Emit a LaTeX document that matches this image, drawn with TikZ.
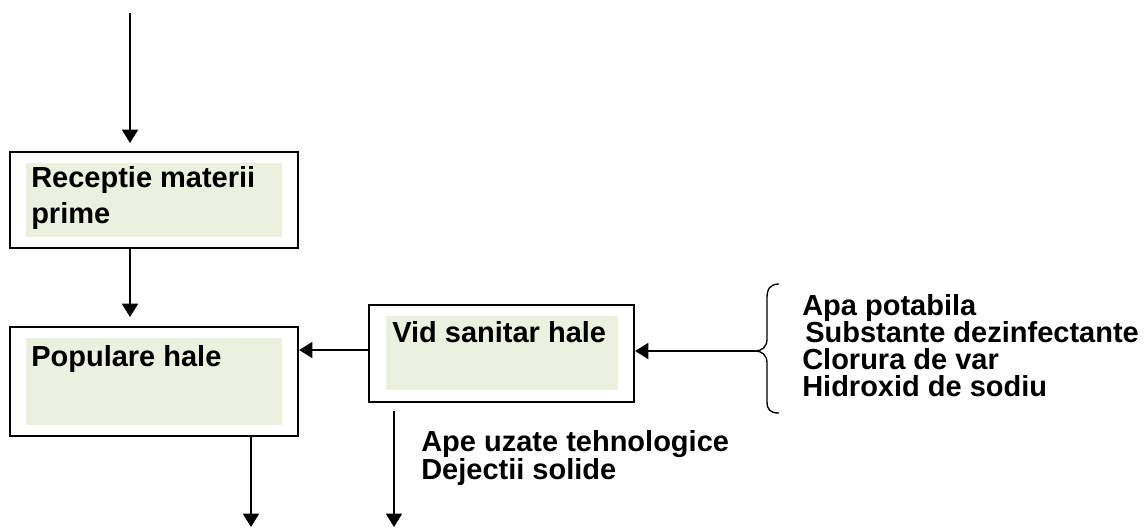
\documentclass[tikz,border=0pt]{standalone}
\usepackage{fontspec}
\setmainfont{Liberation Sans}
\usetikzlibrary{arrows.meta}
\definecolor{boxgreen}{HTML}{EBF1DE}
\begin{document}
\begin{tikzpicture}[x=0.75pt,y=-0.75pt,
  outerbox/.style={draw=black,line width=1.6pt,minimum width=#1*0.75pt,inner sep=0pt},
  greenfill/.style={fill=boxgreen,draw=none},
  lbl/.style={anchor=base west,inner sep=0pt,font=\fontsize{21.75}{26}\selectfont\bfseries},
  arr/.style={line width=1.3pt,-{Triangle[width=12pt,length=10pt]}},
  brace/.style={line width=1pt}]
\useasboundingbox (0,0) rectangle (1146,528);
% boxes
\node[outerbox=288,minimum height=72pt] (rec) at (154,200) {};
\node[outerbox=288,minimum height=81.75pt] (pop) at (154,381.5) {};
\node[outerbox=265,minimum height=72.75pt] (vid) at (501.5,353.5) {};
\fill[greenfill] (26,163) rectangle (282,237);
\fill[greenfill] (26,338) rectangle (282,425);
\fill[greenfill] (386,316) rectangle (618,390);
% texts
\node[lbl] (t1) at (31,187) {Receptie materii};
\node[lbl] (t1b) at (31,223) {prime};
\node[lbl] (t2) at (31,366) {Populare hale};
\node[lbl] (t3) at (392,342) {Vid sanitar hale};
\node[lbl] (o1) at (421,451) {Ape uzate tehnologice};
\node[lbl] (o2) at (421,479) {Dejectii solide};
\node[lbl] (i1) at (802,315) {Apa potabila};
\node[lbl] (i2) at (805,342) {Substante dezinfectante};
\node[lbl] (i3) at (802,369) {Clorura de var};
\node[lbl] (i4) at (802,396) {Hidroxid de sodiu};
% coordinates
\coordinate (top) at (130,13);
\coordinate (topend) at (130,143);
\coordinate (mid) at (130,317);
\coordinate (bt) at (755,351);
\coordinate (pend) at (251,527);
\coordinate (vstart) at (394,411);
\coordinate (vend) at (394,527);
% brace
\draw[brace] (779,284) .. controls (770,284) and (767,289) .. (767,298)
  -- (767,339) .. controls (767,347) and (762,351) .. (bt)
  .. controls (762,351) and (767,355) .. (767,363)
  -- (767,401) .. controls (767,410) and (770,413) .. (779,413);
% connectors
\draw[arr] (top) -- (topend);
\draw[arr] (rec.south -| mid) -- (mid);
\draw[arr] (vid.west |- 0,350) -- (pop.east |- 0,350);
\draw[arr] (bt) -- (vid.east |- bt);
\draw[arr] (pop.south -| pend) -- (pend);
\draw[arr] (vstart) -- (vend);
\end{tikzpicture}
\end{document}
